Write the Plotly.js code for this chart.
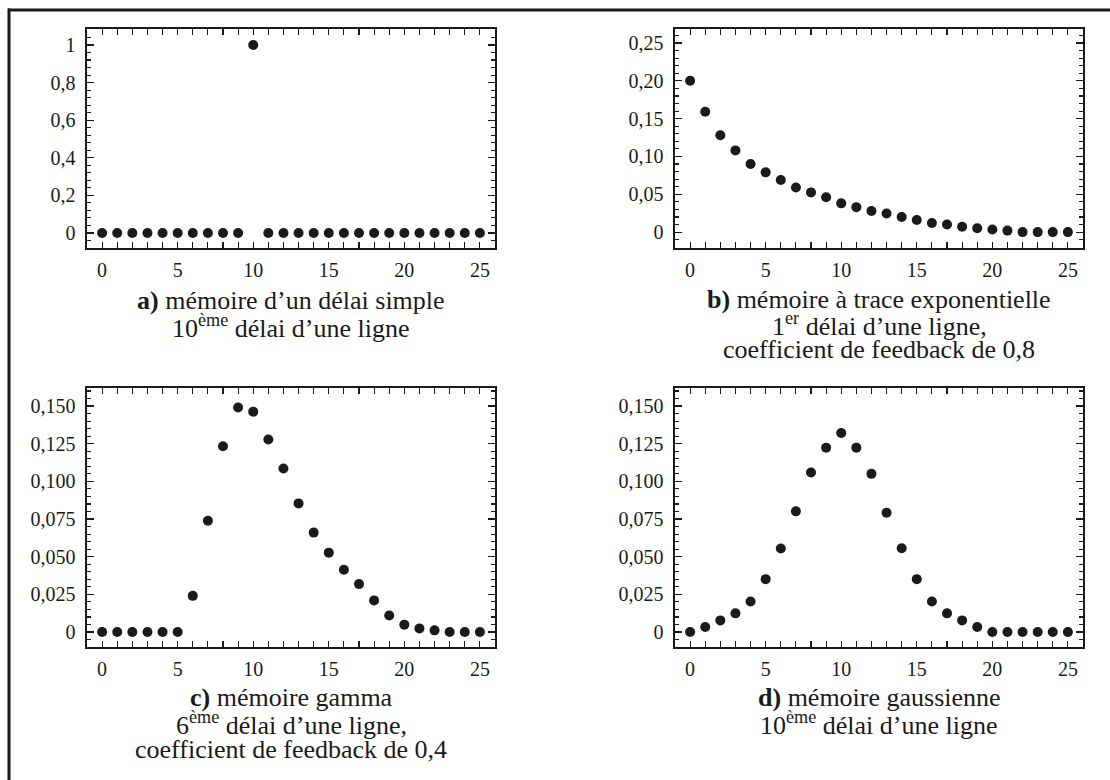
<!DOCTYPE html>
<html>
<head>
<meta charset="utf-8">
<script src="https://cdn.plot.ly/plotly-3.0.1.min.js"></script>
<style>html,body{margin:0;padding:0;background:#fff;}#chart{width:1110px;height:780px;}</style>
</head>
<body>
<div id="chart"></div>
<script>
// ---- data ----
const steps = [0,1,2,3,4,5,6,7,8,9,10,11,12,13,14,15,16,17,18,19,20,21,22,23,24,25];
const delaySimple = [0,0,0,0,0,0,0,0,0,0,1,0,0,0,0,0,0,0,0,0,0,0,0,0,0,0];
const traceExpo = [0.200,0.159,0.128,0.108,0.090,0.079,0.069,0.059,0.0525,0.046,0.038,0.033,0.028,0.0245,0.020,0.016,0.012,0.010,0.007,0.005,0.0035,0.002,0,0,0,0];
const gammaMem = [0,0,0,0,0,0,0.024,0.0739,0.1233,0.1491,0.1463,0.1278,0.1085,0.0854,0.066,0.0527,0.0413,0.0318,0.021,0.011,0.0049,0.0024,0.0011,0,0,0];
const gaussMem = [0,0.0033,0.0077,0.0124,0.0203,0.0351,0.0554,0.0801,0.1059,0.1224,0.1321,0.1224,0.105,0.0792,0.0556,0.0351,0.0203,0.0124,0.0077,0.0033,0,0,0,0,0,0];

const xTickVals = [0,5,10,15,20,25];
const xTickText = ['0','5','10','15','20','25'];
const yTickValsA = [0,0.2,0.4,0.6,0.8,1];
const yTickTextA = ['0','0,2','0,4','0,6','0,8','1'];
const yTickValsB = [0,0.05,0.10,0.15,0.20,0.25];
const yTickTextB = ['0','0,05','0,10','0,15','0,20','0,25'];
const yTickValsCD = [0,0.025,0.05,0.075,0.1,0.125,0.15];
const yTickTextCD = ['0','0,025','0,050','0,075','0,100','0,125','0,150'];

const captionA = ['<b>a)</b> mémoire d’un délai simple', '10<sup>ème</sup> délai d’une ligne'];
const captionB = ['<b>b)</b> mémoire à trace exponentielle', '1<sup>er</sup> délai d’une ligne,', 'coefficient de feedback de 0,8'];
const captionC = ['<b>c)</b> mémoire gamma', '6<sup>ème</sup> délai d’une ligne,', 'coefficient de feedback de 0,4'];
const captionD = ['<b>d)</b> mémoire gaussienne', '10<sup>ème</sup> délai d’une ligne'];

// ---- layout geometry (pixels) ----
const W = 1110, H = 780;
const px = v => v / W;
const py = v => 1 - v / H;
const FONT = 'Liberation Serif';
const INK = '#1a1a1a';

function trace(y, xa, ya) {
  return {x: steps, y: y, xaxis: xa, yaxis: ya, type: 'scatter', mode: 'markers',
    marker: {size: 10, color: INK}, hoverinfo: 'x+y', showlegend: false, cliponaxis: false};
}

function xAxis(domain, anchor) {
  return {domain: domain, anchor: anchor, range: [-1, 26], tickmode: 'array', tickvals: xTickVals, ticktext: xTickText,
    ticks: 'inside', ticklen: 6, tickwidth: 1.2, tickcolor: INK, showline: true, linecolor: INK, linewidth: 1.6,
    mirror: 'allticks', showgrid: false, zeroline: false, ticklabelstandoff: 3,
    tickfont: {family: FONT, size: 20, color: INK},
    minor: {tickmode: 'linear', tick0: 0, dtick: 1, ticks: 'inside', ticklen: 6, tickwidth: 1.2, tickcolor: INK, showgrid: false}};
}
function yAxis(domain, anchor, range, vals, text, minorStep) {
  return {domain: domain, anchor: anchor, range: range, tickmode: 'array', tickvals: vals, ticktext: text,
    ticks: 'inside', ticklen: 7, tickwidth: 1.2, tickcolor: INK, showline: true, linecolor: INK, linewidth: 1.6,
    mirror: 'allticks', showgrid: false, zeroline: false, ticklabelstandoff: 6,
    tickfont: {family: FONT, size: 20, color: INK},
    minor: {tickmode: 'linear', tick0: 0, dtick: minorStep, ticks: 'inside', ticklen: 4, tickwidth: 1.1, tickcolor: INK, showgrid: false}};
}

const boxA = {x0: 87, x1: 495, y0: 29, y1: 248};
const boxB = {x0: 675, x1: 1083, y0: 29, y1: 248};
const boxC = {x0: 87, x1: 495, y0: 388, y1: 647};
const boxD = {x0: 675, x1: 1083, y0: 388, y1: 647};
const dx = b => [px(b.x0), px(b.x1)];
const dy = b => [py(b.y1), py(b.y0)];

const data = [
  trace(delaySimple, 'x', 'y'),
  trace(traceExpo, 'x2', 'y2'),
  trace(gammaMem, 'x3', 'y3'),
  trace(gaussMem, 'x4', 'y4')
];

function captions(lines, box, y0, step) {
  const cx = px((box.x0 + box.x1) / 2);
  return lines.map((t, i) => ({text: t, xref: 'paper', yref: 'paper', x: cx, y: py(y0 + i * step),
    xanchor: 'center', yanchor: 'middle', showarrow: false, font: {family: FONT, size: 26, color: INK}}));
}

const layout = {
  width: W, height: H, margin: {l: 0, r: 0, t: 0, b: 0}, paper_bgcolor: '#fff', plot_bgcolor: '#fff',
  separators: ', ', showlegend: false, font: {family: FONT, color: INK},
  xaxis: xAxis(dx(boxA), 'y'),
  yaxis: yAxis(dy(boxA), 'x', [-0.08, 1.085], yTickValsA, yTickTextA, 0.04),
  xaxis2: xAxis(dx(boxB), 'y2'),
  yaxis2: yAxis(dy(boxB), 'x2', [-0.021, 0.2685], yTickValsB, yTickTextB, 0.01),
  xaxis3: xAxis(dx(boxC), 'y3'),
  yaxis3: yAxis(dy(boxC), 'x3', [-0.00995, 0.162], yTickValsCD, yTickTextCD, 0.005),
  xaxis4: xAxis(dx(boxD), 'y4'),
  yaxis4: yAxis(dy(boxD), 'x4', [-0.00995, 0.162], yTickValsCD, yTickTextCD, 0.005),
  annotations: [].concat(
    captions(captionA, boxA, 300, 26),
    captions(captionB, boxB, 299, 25),
    captions(captionC, boxC, 697, 26),
    captions(captionD, boxD, 697, 26)
  ),
  shapes: [
    {type: 'line', xref: 'paper', yref: 'paper', x0: px(8), x1: 1, y0: py(10), y1: py(10), line: {color: INK, width: 3}},
    {type: 'line', xref: 'paper', yref: 'paper', x0: px(9), x1: px(9), y0: py(8.5), y1: 0, line: {color: INK, width: 3}}
  ]
};

Plotly.newPlot('chart', data, layout, {displayModeBar: false, staticPlot: true});
</script>
</body>
</html>
